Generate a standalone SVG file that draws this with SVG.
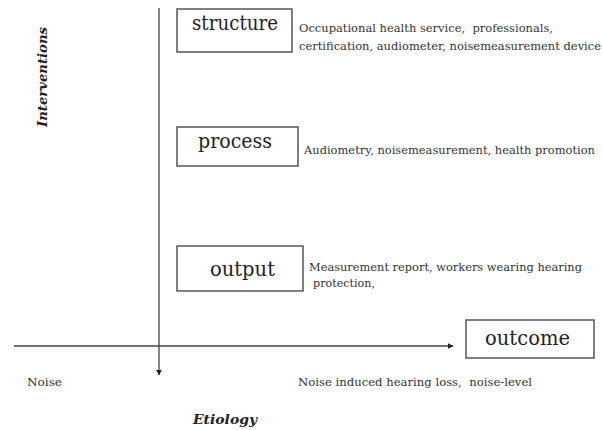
<svg xmlns="http://www.w3.org/2000/svg" width="602" height="430" viewBox="0 0 602 430">
<defs>
<style>
.box{fill:#fff;stroke:#555;stroke-width:1.5}
text{font-family:'DejaVu Serif','Liberation Serif',serif;fill:#222}
.lbl{font-size:20px}
.sm{font-size:11px;fill:#333}
.ax{font-size:13px;font-weight:bold;font-style:italic}
.axis{stroke:#444;stroke-width:1.3;fill:none}
</style>
<marker id="ah" viewBox="0 0 10 10" refX="9" refY="5" markerWidth="6" markerHeight="6" orient="auto" markerUnits="userSpaceOnUse">
<path d="M0,0 L10,5 L0,10 z" fill="#222"/>
</marker>
</defs>
<rect width="602" height="430" fill="#fff"/>
<g id="connectors">
<line class="axis" x1="159" y1="8" x2="159" y2="375" marker-end="url(#ah)"/>
<line class="axis" x1="14" y1="346" x2="453" y2="346" marker-end="url(#ah)"/>
</g>
<g id="structure">
<rect class="box" x="177" y="9" width="115" height="43"/>
<text class="lbl" x="192" y="30" textLength="86" lengthAdjust="spacingAndGlyphs">structure</text>
</g>
<g id="structure-desc">
<text class="sm" x="299" y="32" textLength="254" lengthAdjust="spacingAndGlyphs" xml:space="preserve">Occupational health service,  professionals,</text>
<text class="sm" x="299" y="50" textLength="302" lengthAdjust="spacingAndGlyphs">certification, audiometer, noisemeasurement device</text>
</g>
<g id="process">
<rect class="box" x="177" y="127" width="121" height="39"/>
<text class="lbl" x="198" y="148" textLength="74" lengthAdjust="spacingAndGlyphs">process</text>
</g>
<g id="process-desc">
<text class="sm" x="304" y="154" textLength="291" lengthAdjust="spacingAndGlyphs">Audiometry, noisemeasurement, health promotion</text>
</g>
<g id="output">
<rect class="box" x="177" y="246" width="126" height="45"/>
<text class="lbl" x="210" y="276" textLength="65" lengthAdjust="spacingAndGlyphs">output</text>
</g>
<g id="output-desc">
<text class="sm" x="309" y="271" textLength="273" lengthAdjust="spacingAndGlyphs">Measurement report, workers wearing hearing</text>
<text class="sm" x="313" y="287" textLength="62" lengthAdjust="spacingAndGlyphs">protection,</text>
</g>
<g id="outcome">
<rect class="box" x="466" y="320" width="128" height="38"/>
<text class="lbl" x="485" y="345" textLength="85" lengthAdjust="spacingAndGlyphs">outcome</text>
</g>
<g id="outcome-desc">
<text class="sm" x="298" y="386" textLength="234" lengthAdjust="spacingAndGlyphs" xml:space="preserve">Noise induced hearing loss,  noise-level</text>
</g>
<g id="noise">
<text class="sm" x="27" y="386" textLength="35" lengthAdjust="spacingAndGlyphs">Noise</text>
</g>
<g id="interventions">
<text class="ax" x="0" y="0" text-anchor="middle" transform="translate(47,77) rotate(-90)" textLength="100" lengthAdjust="spacingAndGlyphs">Interventions</text>
</g>
<g id="etiology">
<text class="ax" x="193" y="424" textLength="64" lengthAdjust="spacingAndGlyphs">Etiology</text>
</g>
</svg>
